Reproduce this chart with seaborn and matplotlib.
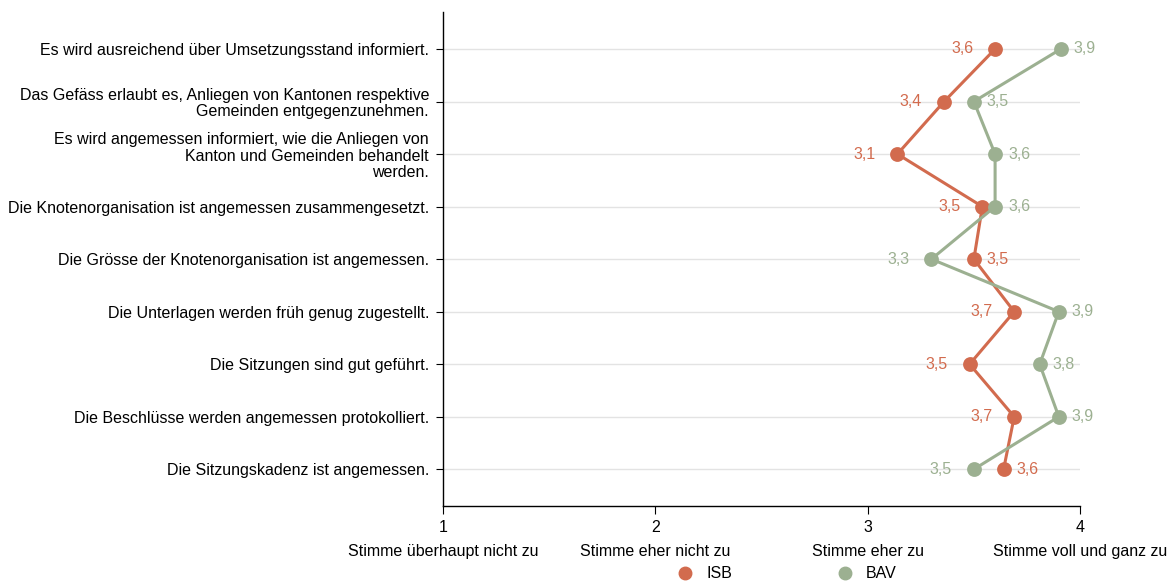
import pandas as pd
import seaborn as sns
import matplotlib.pyplot as plt
from matplotlib.lines import Line2D

# Data
items = [
    "Es wird ausreichend über Umsetzungsstand informiert.",
    "Das Gefäss erlaubt es, Anliegen von Kantonen respektive\nGemeinden entgegenzunehmen.",
    "Es wird angemessen informiert, wie die Anliegen von\nKanton und Gemeinden behandelt\nwerden.",
    "Die Knotenorganisation ist angemessen zusammengesetzt.",
    "Die Grösse der Knotenorganisation ist angemessen.",
    "Die Unterlagen werden früh genug zugestellt.",
    "Die Sitzungen sind gut geführt.",
    "Die Beschlüsse werden angemessen protokolliert.",
    "Die Sitzungskadenz ist angemessen.",
]
isb = [3.60, 3.36, 3.14, 3.54, 3.50, 3.69, 3.48, 3.69, 3.64]
bav = [3.91, 3.50, 3.60, 3.60, 3.30, 3.90, 3.81, 3.90, 3.50]
groups = ["ISB", "BAV"]
colors = {"ISB": "#d26b4e", "BAV": "#9cb091"}
x_ticks = [1, 2, 3, 4]
x_labels = ["Stimme überhaupt nicht zu", "Stimme eher nicht zu",
            "Stimme eher zu", "Stimme voll und ganz zu"]

df = pd.DataFrame({
    "item": items * 2,
    "value": isb + bav,
    "group": ["ISB"] * len(items) + ["BAV"] * len(items),
})

sns.set_style("white")
plt.rcParams['font.family'] = ['Liberation Sans', 'DejaVu Sans']
fs = 11.5

fig, ax = plt.subplots(figsize=(11.76, 5.81), dpi=100)
fig.subplots_adjust(left=0.3767, right=0.9184, top=0.979, bottom=0.129)

sns.pointplot(data=df, x="value", y="item", hue="group", order=items,
              hue_order=groups, palette=colors, orient="h", errorbar=None,
              markersize=9, linewidth=2.2, legend=False, ax=ax)

# value labels: larger value on the right, smaller on the left
for i in range(len(items)):
    for g, vals, other in (("ISB", isb, bav), ("BAV", bav, isb)):
        v = vals[i]
        txt = f"{v:.1f}".replace(".", ",")
        if v >= other[i]:
            ax.annotate(txt, (v, i), xytext=(13, 0), textcoords="offset pixels",
                        ha="left", va="center", color=colors[g], fontsize=fs)
        else:
            ax.annotate(txt, (v, i), xytext=(-22, 0), textcoords="offset pixels",
                        ha="right", va="center", color=colors[g], fontsize=fs)

ax.set_xlim(1, 4)
ax.set_ylim(8.7, -0.7)
ax.set_xticks(x_ticks)
ax.set_xticklabels([f"{t}\n{l}" for t, l in zip(x_ticks, x_labels)],
                   fontsize=fs, linespacing=1.75)
for lab in ax.get_yticklabels():
    lab.set_linespacing(1.1)
ax.tick_params(axis="y", labelsize=fs, length=5, color="black", left=True,
               pad=5, labelcolor="black")
ax.tick_params(axis="x", length=6, color="black", bottom=True, pad=4,
               labelcolor="black")
ax.set_xlabel("")
ax.set_ylabel("")
ax.yaxis.grid(True, color="#e3e3e3", linewidth=1)
ax.xaxis.grid(False)
for s in ["top", "right"]:
    ax.spines[s].set_visible(False)
for s in ["left", "bottom"]:
    ax.spines[s].set_color("black")
    ax.spines[s].set_linewidth(1)

handles = [Line2D([], [], marker="o", linestyle="", markersize=9,
                  color=colors[g]) for g in groups]
fig.legend(handles, groups, loc="lower center", bbox_to_anchor=(0.666, -0.025),
           ncol=2, frameon=False, fontsize=fs, handletextpad=0.3,
           columnspacing=6.1, labelcolor="black")

fig.savefig("out.png", dpi=100)
